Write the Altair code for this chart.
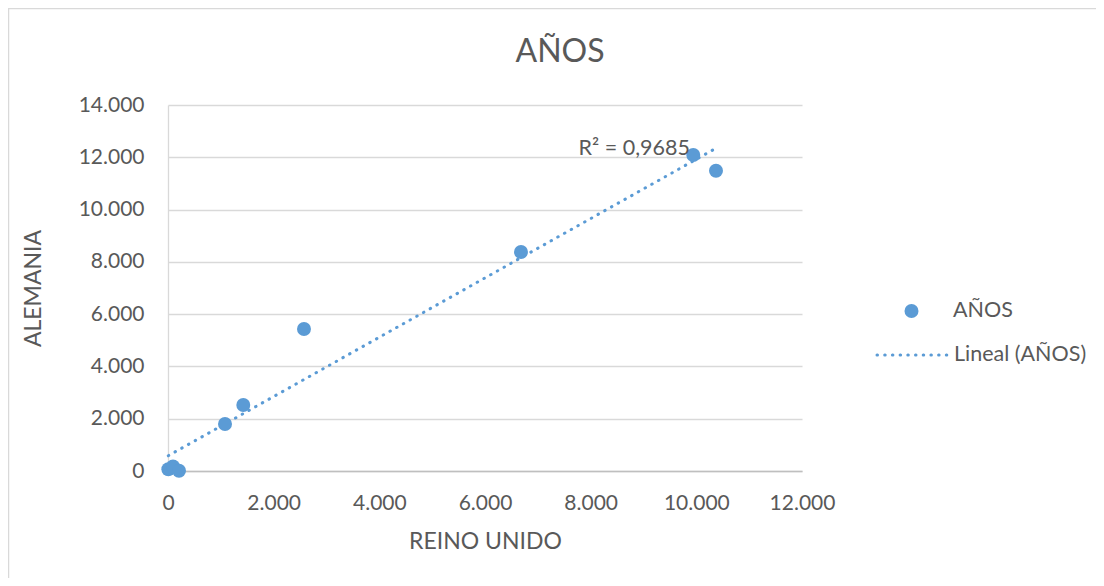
import altair as alt
import pandas as pd

# Data
reino_unido = [6, 95, 208, 1079, 1425, 2574, 6681, 9942, 10372]
alemania = [65, 172, 10, 1798, 2525, 5432, 8377, 12087, 11487]
x_ticks = [0, 2000, 4000, 6000, 8000, 10000, 12000]
y_ticks = [0, 2000, 4000, 6000, 8000, 10000, 12000, 14000]
chart_title = ["AÑOS"]
series_label = ["AÑOS"]
trend_label = ["Lineal (AÑOS)"]
r2_label = ["R² = 0,9685"]

BLUE = "#5B9BD5"
GREY = "#595959"
FONT = "Lato"
LBL = "replace(format(datum.value, ',d'), ',', '.')"

df = pd.DataFrame({"reino_unido": reino_unido, "alemania": alemania})

x_enc = alt.X(
    "reino_unido:Q",
    scale=alt.Scale(domain=[0, 12000], nice=False, zero=False),
    axis=alt.Axis(
        values=x_ticks, labelExpr=LBL, grid=False, ticks=False,
        domainColor="#BFBFBF", domainWidth=1.3, labelPadding=21,
        labelFlush=False, labelOverlap=False,
        title="REINO UNIDO", titleX=317, titleY=77, titleBaseline="alphabetic",
        titleAlign="center", titleAnchor="middle",
    ),
)
y_enc = alt.Y(
    "alemania:Q",
    scale=alt.Scale(domain=[0, 14000], nice=False, zero=False),
    axis=alt.Axis(
        values=y_ticks, labelExpr=LBL, grid=True, gridColor="#D9D9D9",
        gridWidth=1.3, ticks=False, domainColor="#D9D9D9", domainWidth=1.3,
        labelPadding=24, labelFlush=False, labelOverlap=False,
        title="ALEMANIA", titleX=-135, titleY=183, titleAngle=-90,
        titleBaseline="middle", titleAlign="center",
    ),
)

base = alt.Chart(df)

trend = base.transform_regression("reino_unido", "alemania").mark_line(
    color=BLUE, strokeWidth=3, strokeDash=[0.5, 7.2], strokeCap="round"
).encode(x=x_enc, y=y_enc)

points = base.mark_circle(size=195, color=BLUE, opacity=1).encode(
    x="reino_unido:Q", y="alemania:Q"
)

r2 = alt.Chart(pd.DataFrame({"t": r2_label})).mark_text(
    align="right", baseline="middle", fontSize=21.5, font=FONT, color=GREY
).encode(x=alt.datum(9880), y=alt.datum(12320), text="t:N")

title = alt.Chart(pd.DataFrame({"t": chart_title})).mark_text(
    align="center", baseline="alphabetic", fontSize=32, font=FONT, color=GREY
).encode(x=alt.value(392), y=alt.value(-43), text="t:N")

leg_dot = alt.Chart(pd.DataFrame({"t": series_label})).mark_circle(
    size=195, color=BLUE, opacity=1
).encode(x=alt.value(743.5), y=alt.value(206))
leg_dot_txt = alt.Chart(pd.DataFrame({"t": series_label})).mark_text(
    align="left", baseline="middle", fontSize=21.5, font=FONT, color=GREY
).encode(x=alt.value(785), y=alt.value(206), text="t:N")
leg_line = alt.Chart(pd.DataFrame({"t": trend_label})).mark_rule(
    color=BLUE, strokeWidth=3, strokeDash=[0.5, 7.2], strokeCap="round"
).encode(x=alt.value(709), x2=alt.value(779), y=alt.value(250))
leg_line_txt = alt.Chart(pd.DataFrame({"t": trend_label})).mark_text(
    align="left", baseline="middle", fontSize=21.5, font=FONT, color=GREY
).encode(x=alt.value(786), y=alt.value(250), text="t:N")

border = alt.Chart(pd.DataFrame({"t": [0]})).mark_rect(
    fill="transparent", stroke="#D9D9D9", strokeWidth=1.5
).encode(x=alt.value(-159.5), y=alt.value(-96.5), x2=alt.value(1300), y2=alt.value(800))

chart = alt.layer(
    border, trend, points, r2, title, leg_dot, leg_dot_txt, leg_line, leg_line_txt
).properties(
    width=634, height=366,
    autosize=alt.AutoSizeParams(type="none"),
    padding={"left": 160, "top": 97, "right": 294, "bottom": 107},
).configure_view(stroke="transparent").configure_axis(
    labelFont=FONT, labelFontSize=21, labelColor=GREY,
    titleFont=FONT, titleFontSize=23, titleColor=GREY, titleFontWeight="normal",
)

chart.save("out.html", embed_options={"renderer": "svg", "actions": False})
